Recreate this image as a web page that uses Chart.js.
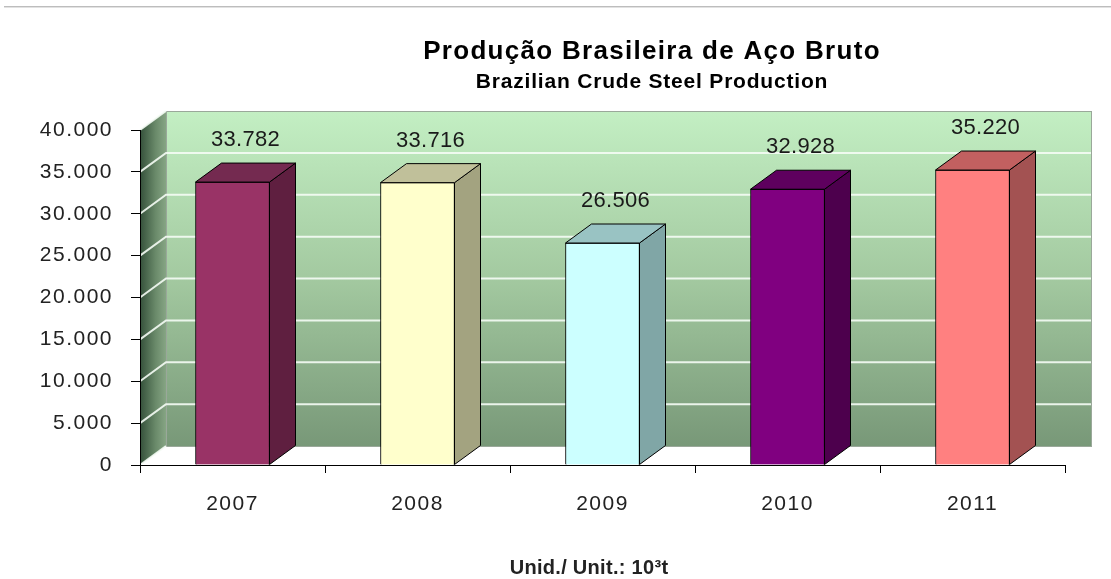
<!DOCTYPE html>
<html lang="pt-BR">
<head>
<meta charset="utf-8">
<title>Produção Brasileira de Aço Bruto</title>
<script src="https://cdn.jsdelivr.net/npm/chart.js@4.4.0/dist/chart.umd.min.js"></script>
<style>
    html, body { margin: 0; padding: 0; background: #ffffff; }
    canvas { display: block; }
</style>
</head>
<body>
<canvas id="bar-chart" width="1111" height="579"></canvas>
<script>
const years = ["2007", "2008", "2009", "2010", "2011"]
const production = [33782, 33716, 26506, 32928, 35220]
const yTicks = [0, 5000, 10000, 15000, 20000, 25000, 30000, 35000, 40000]

const frontColors = ["#993366", "#ffffcc", "#ccffff", "#800080", "#ff8080"]
const sideColors = ["#5f1f40", "#a3a380", "#80a6a6", "#4d004d", "#a35252"]
const topColors = ["#742a50", "#c0c09a", "#99c3c3", "#5e005e", "#c26060"]

const titleText = "Produção Brasileira de Aço Bruto"
const subtitleText = "Brazilian Crude Steel Production"
const unitText = "Unid./ Unit.: 10³t"

// deslocamento da profundidade 3D
const Depth = { dx: 26, dy: -19 }

const Utils = {
    formatNumber(value) {
        return String(value).replace(/\B(?=(\d{3})+(?!\d))/g, ".")
    },

    text(ctx, str, x, y, font, spacing, color) {
        ctx.save()
        ctx.font = font
        ctx.letterSpacing = spacing
        ctx.fillStyle = color
        ctx.textAlign = "center"
        ctx.textBaseline = "middle"
        ctx.fillText(str, x, y)
        ctx.restore()
    }
}

const Walls = {
    id: "walls",

    beforeDraw(chart) {
        const ctx = chart.ctx
        const { left, right, top, bottom } = chart.chartArea
        const { dx, dy } = Depth
        const yScale = chart.scales.y

        ctx.save()

        // linha cinza no topo da pagina
        ctx.fillStyle = "#bdbdbd"
        ctx.fillRect(4, 6, 1107, 1)
        ctx.fillStyle = "#e2e2e2"
        ctx.fillRect(4, 7, 1107, 1)

        // piso
        ctx.beginPath()
        ctx.moveTo(left, bottom)
        ctx.lineTo(left + dx, bottom + dy)
        ctx.lineTo(right + dx, bottom + dy)
        ctx.lineTo(right, bottom)
        ctx.closePath()
        ctx.fillStyle = "#ffffff"
        ctx.fill()

        // parede do fundo
        const back = ctx.createLinearGradient(0, top + dy, 0, bottom + dy)
        back.addColorStop(0, "#c3efc3")
        back.addColorStop(0.5, "#a3c9a0")
        back.addColorStop(1, "#789878")
        ctx.fillStyle = back
        ctx.fillRect(left + dx, top + dy, right - left, bottom - top)
        ctx.strokeStyle = "#9aa89a"
        ctx.lineWidth = 1
        ctx.strokeRect(left + dx + 0.5, top + dy + 0.5, right - left, bottom - top)

        // parede lateral
        const side = ctx.createLinearGradient(left, 0, left + dx, 0)
        side.addColorStop(0, "#34503a")
        side.addColorStop(0.6, "#6a8a6a")
        side.addColorStop(1, "#86a584")
        ctx.beginPath()
        ctx.moveTo(left, top)
        ctx.lineTo(left + dx, top + dy)
        ctx.lineTo(left + dx, bottom + dy)
        ctx.lineTo(left, bottom)
        ctx.closePath()
        ctx.fillStyle = side
        ctx.fill()

        // linhas de grade
        ctx.strokeStyle = "rgba(245, 252, 245, 0.9)"
        ctx.lineWidth = 2
        yTicks.forEach((value) => {
            const y = yScale.getPixelForValue(value)
            ctx.beginPath()
            ctx.moveTo(left, y)
            ctx.lineTo(left + dx, y + dy)
            if (value > 0 && value < yScale.max) {
                ctx.lineTo(right + dx, y + dy)
            }
            ctx.stroke()
        })

        ctx.restore()

        Utils.text(ctx, titleText, 652, 52, "bold 26px 'Liberation Sans'", "1.3px", "#000000")
        Utils.text(ctx, subtitleText, 652, 82, "bold 21px 'Liberation Sans'", "0.8px", "#000000")
        Utils.text(ctx, unitText, 589, 568, "bold 20px 'Liberation Sans'", "0.3px", "#222222")

        // espacamento das etiquetas dos eixos
        ctx.letterSpacing = "1.5px"
    },

    beforeDatasetsDraw(chart) {
        chart.ctx.letterSpacing = "0px"
    }
}

const Bars3D = {
    id: "bars3d",

    afterDatasetsDraw(chart) {
        const ctx = chart.ctx
        const { dx, dy } = Depth

        chart.getDatasetMeta(0).data.forEach((bar, index) => {
            const { x, y, base, width } = bar.getProps(["x", "y", "base", "width"], true)
            const l = x - width / 2
            const r = x + width / 2

            ctx.save()
            ctx.strokeStyle = "#000000"
            ctx.lineWidth = 1
            ctx.lineJoin = "round"

            ctx.beginPath()
            ctx.moveTo(r, y)
            ctx.lineTo(r + dx, y + dy)
            ctx.lineTo(r + dx, base + dy)
            ctx.lineTo(r, base)
            ctx.closePath()
            ctx.fillStyle = sideColors[index]
            ctx.fill()
            ctx.stroke()

            ctx.beginPath()
            ctx.moveTo(l, y)
            ctx.lineTo(l + dx, y + dy)
            ctx.lineTo(r + dx, y + dy)
            ctx.lineTo(r, y)
            ctx.closePath()
            ctx.fillStyle = topColors[index]
            ctx.fill()
            ctx.stroke()
            ctx.restore()

            Utils.text(ctx, Utils.formatNumber(production[index]), x + dx / 2, y + dy - 23,
                "22px 'Liberation Sans'", "0.3px", "#1a1a1a")
        })
    }
}

const Graphics = {
    ctx: document.getElementById("bar-chart"),

    optionsChart: {
        type: "bar",

        data: {
            labels: years,
            datasets: [
                {
                    label: "Produção",
                    data: production,
                    backgroundColor: frontColors,
                    borderColor: "#000000",
                    borderWidth: 1,
                    barThickness: 74
                }
            ]
        },

        options: {
            responsive: false,
            animation: false,
            events: [],
            layout: {
                padding: { top: 130, right: 46, left: 0, bottom: 0 }
            },
            plugins: {
                legend: { display: false },
                tooltip: { enabled: false }
            },
            scales: {
                x: {
                    grid: {
                        offset: true,
                        drawOnChartArea: false,
                        color: "#000000",
                        tickLength: 8
                    },
                    border: { color: "#000000", width: 1 },
                    ticks: {
                        color: "#222222",
                        padding: 19,
                        font: { family: "'Liberation Sans'", size: 21 }
                    },
                    afterFit(scale) {
                        scale.height = 114
                    }
                },
                y: {
                    min: 0,
                    max: 40000,
                    afterBuildTicks(scale) {
                        scale.ticks = yTicks.map((value) => ({ value }))
                    },
                    grid: {
                        drawOnChartArea: false,
                        color: "#000000",
                        tickLength: 9
                    },
                    border: { color: "#000000", width: 1 },
                    ticks: {
                        color: "#222222",
                        padding: 18,
                        font: { family: "'Liberation Sans'", size: 21 },
                        callback: (value) => Utils.formatNumber(value)
                    },
                    afterFit(scale) {
                        scale.width = 140
                    }
                }
            }
        },

        plugins: [Walls, Bars3D]
    }
}

let barChart = new Chart(Graphics.ctx, Graphics.optionsChart)
</script>
</body>
</html>
